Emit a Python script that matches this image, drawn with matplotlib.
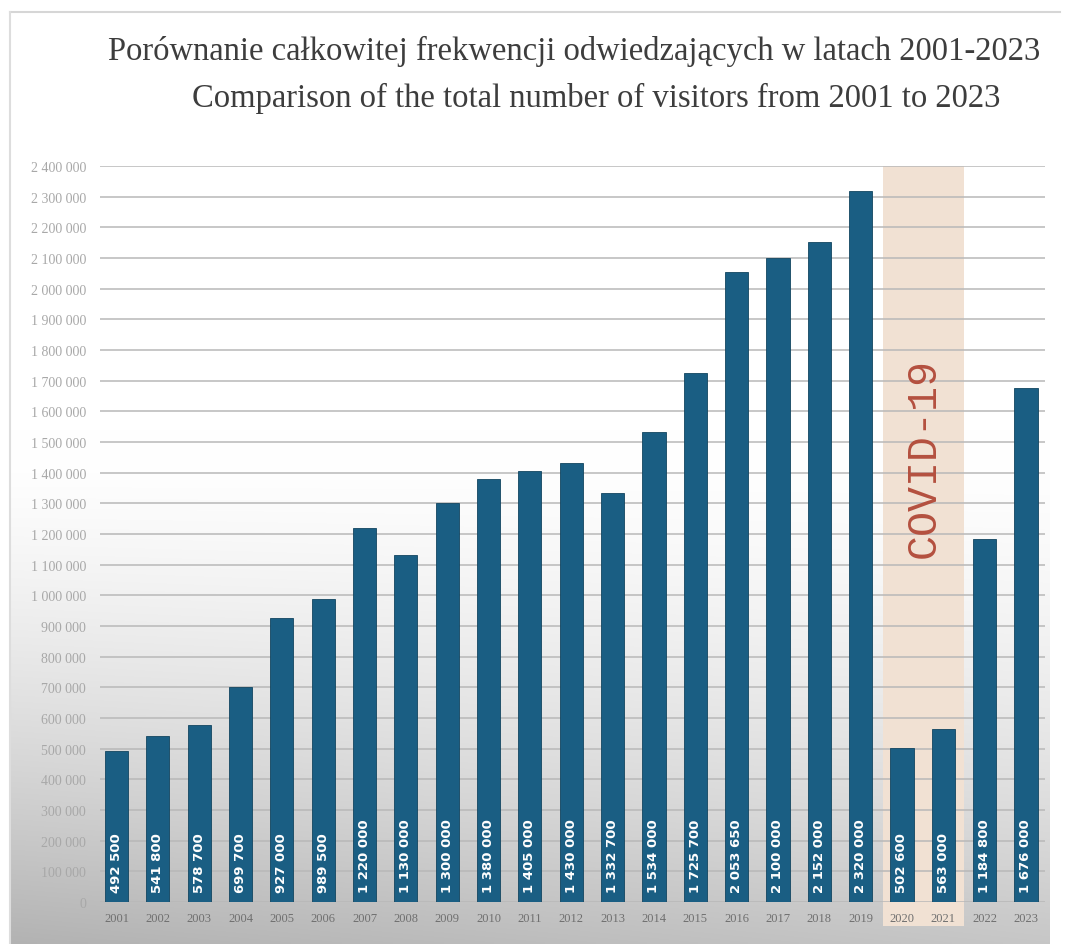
import numpy as np
import matplotlib
matplotlib.use("Agg")
import matplotlib.pyplot as plt
from matplotlib.patches import Rectangle
from matplotlib.ticker import FuncFormatter

years = list(range(2001, 2024))
visitors = [492500, 541800, 578700, 699700, 927000, 989500, 1220000,
            1130000, 1300000, 1380000, 1405000, 1430000, 1332700, 1534000,
            1725700, 2053650, 2100000, 2152000, 2320000, 502600, 563000,
            1184800, 1676000]
covid_years = [2020, 2021]

title_pl = "Porównanie całkowitej frekwencji odwiedzających w latach 2001-2023"
title_en = "Comparison of the total number of visitors from 2001 to 2023"

BAR = "#1a5e83"
W, H = 1070, 945


def fmt(v):
    return f"{int(v):,}".replace(",", " ")


fig = plt.figure(figsize=(W / 100, H / 100), dpi=100)

# background: white top fading into grey at the bottom
bg = fig.add_axes([0, 0, 1, 1], zorder=-10)
bg.set_xlim(0, W)
bg.set_ylim(H, 0)
bg.axis("off")
yy = np.linspace(0, 1, 300)[:, None]
xx = np.linspace(0, 1, 300)[None, :]
shade = np.clip((yy - 0.45) / 0.55, 0, 1) ** 1.6 * 0.22 + (1 - xx) * np.clip((yy - 0.5) / 0.5, 0, 1) * 0.08
img = np.ones((300, 300, 3)) * (1 - shade)[:, :, None]
bg.imshow(img, extent=(10, 1050, H, 13), aspect="auto", interpolation="bilinear")
bg.plot([10, 1060], [13, 13], color="#d6d6d6", lw=1.5)
bg.plot([10, 10], [13, H], color="#dddddd", lw=1.5)

fig.text(0.537, 0.946, title_pl, ha="center", va="center",
         family="Liberation Serif", fontsize=23.5, color="#3d3d3d")
fig.text(0.557, 0.896, title_en, ha="center", va="center",
         family="Liberation Serif", fontsize=23.5, color="#3d3d3d")

ax = fig.add_axes([100 / W, 1 - 903 / H, 945 / W, 736 / H])
ax.set_facecolor("none")
x = np.array(years)
ax.set_xlim(years[0] - 0.40, years[-1] + 0.46)
ax.set_ylim(0, 2400000)

# COVID band
x0 = covid_years[0] - 0.47
x1 = covid_years[-1] + 0.51
band = Rectangle((x0, -0.033), x1 - x0, 1.033, transform=ax.get_xaxis_transform(),
                 facecolor="#f1e1d3", edgecolor="none", clip_on=False, zorder=0)
ax.add_patch(band)
ax.text((x0 + x1) / 2, 1450000, "COVID-19", rotation=90, ha="center", va="center",
        family="Liberation Mono", fontsize=30, color="#b4503f", zorder=1)

ax.set_yticks(np.arange(0, 2400001, 100000))
ax.yaxis.set_major_formatter(FuncFormatter(lambda v, p: fmt(v)))
ax.grid(axis="y", color="#b8b8b8", lw=1.1, zorder=0.5)
ax.set_axisbelow(True)

ax.bar(x, visitors, width=0.56, color=BAR, edgecolor="#124560", lw=0.6, zorder=3)
for xi, v in zip(x, visitors):
    ax.annotate(fmt(v), (xi, 0), xytext=(0, 7), textcoords="offset points",
                rotation=90, ha="center", va="bottom", color="white",
                fontsize=9.5, fontweight="bold", family="DejaVu Sans", zorder=4)

ax.set_xticks(x)
ax.set_xticklabels([str(y) for y in years], family="Liberation Serif",
                   fontsize=9, color="#6f6f6f")
ax.tick_params(axis="x", length=0, pad=7)
ax.tick_params(axis="y", length=0, pad=10, labelsize=10, labelcolor="#a8a8a8")
for lab in ax.get_yticklabels():
    lab.set_family("Liberation Serif")
for s in ax.spines.values():
    s.set_visible(False)

fig.savefig("out.png", dpi=100)
